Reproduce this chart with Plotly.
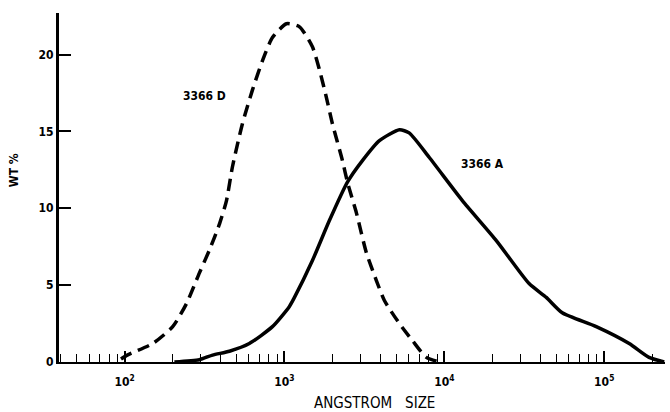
import plotly.graph_objects as go

# Curve 3366 D (dashed): particle size (Angstrom) vs WT %
d_size = [95, 104, 150, 200, 244, 294, 340, 393, 434, 473, 546, 631, 729, 841, 1029, 1242, 1496, 1656, 1830, 1995, 2305, 2477, 2818, 3255, 3758, 4217, 5236, 6310, 7720, 9333]
d_wt = [0.2, 0.45, 1.2, 2.3, 3.8, 5.8, 7.3, 9.0, 10.5, 12.7, 15.5, 17.7, 19.6, 21.1, 22.0, 21.8, 20.5, 19.0, 17.2, 15.5, 13.1, 11.7, 9.7, 7.1, 5.3, 4.0, 2.5, 1.4, 0.3, 0.0]

# Curve 3366 A (solid)
a_size = [205, 294, 355, 453, 603, 841, 1072, 1155, 1496, 1910, 2477, 3073, 3926, 5236, 6026, 8054, 12960, 21135, 33884, 43401, 54616, 89125, 143219, 190546, 237137]
a_wt = [0.0, 0.15, 0.45, 0.7, 1.2, 2.3, 3.6, 4.2, 6.6, 9.2, 11.7, 13.1, 14.4, 15.1, 14.9, 13.3, 10.5, 7.9, 5.1, 4.2, 3.2, 2.3, 1.2, 0.3, 0.0]

x_tickvals = [100, 1000, 10000, 100000]
x_ticktext = ["10<sup>2</sup>", "10<sup>3</sup>", "10<sup>4</sup>", "10<sup>5</sup>"]
x_minorvals = [m * 10 ** k for k in range(1, 6) for m in range(2, 10)]
y_tickvals = [0, 5, 10, 15, 20]
y_ticktext = ["0", "5", "10", "15", "20"]

FONT = "DejaVu Sans Condensed, DejaVu Sans, sans-serif"

fig = go.Figure()
fig.add_trace(go.Scatter(x=d_size, y=d_wt, mode="lines", line=dict(color="black", width=3.5, dash="12px,7px", shape="spline", smoothing=0.6), showlegend=False))
fig.add_trace(go.Scatter(x=a_size, y=a_wt, mode="lines", line=dict(color="black", width=3.5, shape="spline", smoothing=0.6), showlegend=False))

fig.add_annotation(x=2.5, y=17.3, xref="x", yref="y", text="3366 D", showarrow=False, font=dict(family=FONT, size=12, color="black", weight="bold"))
fig.add_annotation(x=4.24, y=12.9, xref="x", yref="y", text="3366 A", showarrow=False, font=dict(family=FONT, size=12, color="black", weight="bold"))
fig.add_annotation(x=-0.074, y=0.55, xref="paper", yref="paper", text="WT %", showarrow=False, textangle=-90, xanchor="center", font=dict(family=FONT, size=12, color="black", weight="bold"))
fig.add_annotation(x=0.521, y=-0.118, xref="paper", yref="paper", text="ANGSTROM   SIZE", showarrow=False, xanchor="center", yanchor="middle", font=dict(family=FONT, size=15, color="black"))

fig.update_layout(
    width=670, height=412,
    margin=dict(l=59, r=5, t=13, b=50),
    paper_bgcolor="white", plot_bgcolor="white",
    font=dict(family=FONT, size=12, color="black"),
    xaxis=dict(
        type="log", range=[1.59, 5.38], automargin=False,
        tickmode="array", tickvals=x_tickvals, ticktext=x_ticktext,
        ticks="inside", ticklen=11, tickwidth=1.5, tickcolor="black",
        ticklabelstandoff=8,
        showline=True, linecolor="black", linewidth=2,
        showgrid=False, zeroline=False,
        minor=dict(tickmode="array", tickvals=x_minorvals, ticks="inside", ticklen=8, tickwidth=1.2, tickcolor="black", showgrid=False),
        tickfont=dict(family=FONT, size=12, color="black", weight="bold"),
    ),
    yaxis=dict(
        range=[0, 22.7], automargin=False,
        tickvals=y_tickvals, ticktext=y_ticktext,
        ticks="inside", ticklen=12, tickwidth=1.5, tickcolor="black",
        showline=True, linecolor="black", linewidth=3,
        showgrid=False, zeroline=False,
        tickfont=dict(family=FONT, size=12, color="black", weight="bold"),
    ),
)
fig.write_html("out.html")
